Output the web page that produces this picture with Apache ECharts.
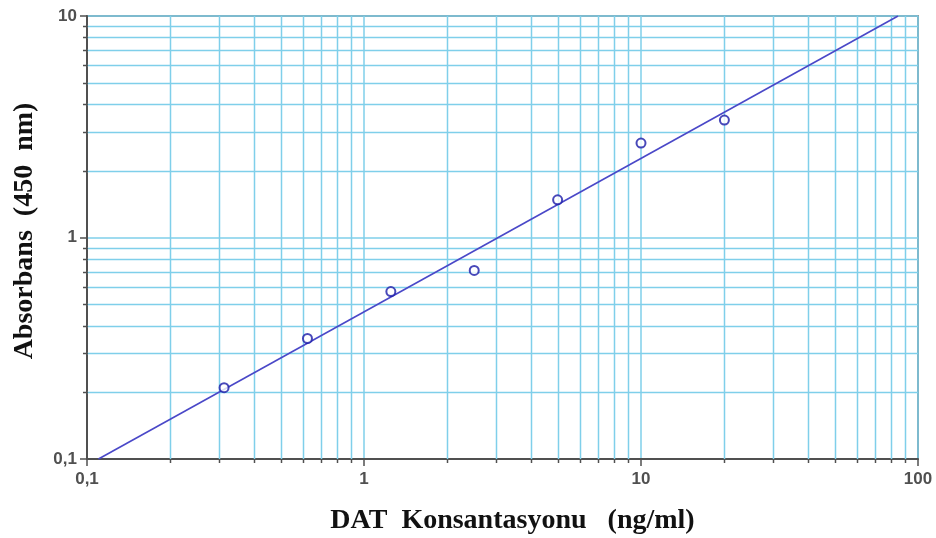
<!DOCTYPE html>
<html>
<head>
<meta charset="utf-8">
<script src="https://cdn.jsdelivr.net/npm/echarts@6/dist/echarts.min.js"></script>
<style>
  html, body { margin: 0; padding: 0; background: #fff; }
  #chart { width: 936px; height: 538px; }
</style>
</head>
<body>
<div id="chart"></div>
<script>
// Standard concentrations (ng/ml) and measured absorbance at 450 nm
const concentrations = [0.3125, 0.625, 1.25, 2.5, 5, 10, 20];
const absorbance = [0.21, 0.35, 0.57, 0.71, 1.48, 2.67, 3.39];

// Fitted log-log standard curve, end points
const fitX = [0.11, 84.7];
const fitY = [0.1, 10];

// Minor grid positions for the log axes
const xMinor = [0.2, 0.3, 0.4, 0.5, 0.6, 0.7, 0.8, 0.9,
                2, 3, 4, 5, 6, 7, 8, 9,
                20, 30, 40, 50, 60, 70, 80, 90];
const yMinor = [0.2, 0.3, 0.4, 0.5, 0.6, 0.7, 0.8, 0.9,
                2, 3, 4, 5, 6, 7, 8, 9];

const GRID_COLOR = '#7fcfea';
const AXIS_COLOR = '#505050';

const chart = echarts.init(document.getElementById('chart'));

function commaFmt(v) {
  return String(v).replace('.', ',');
}

// Minor vertical grid lines plus small ticks below the x axis
function renderXMinor(params, api) {
  const cs = params.coordSys;
  const p = api.coord([api.value(0), 1]);
  const x = Math.round(p[0]) + 0.5;
  const bottom = cs.y + cs.height;
  return {
    type: 'group',
    children: [
      { type: 'line', shape: { x1: x, y1: cs.y, x2: x, y2: bottom },
        style: { stroke: GRID_COLOR, lineWidth: 1.5 } },
      { type: 'line', shape: { x1: x, y1: bottom, x2: x, y2: bottom + 4 },
        style: { stroke: AXIS_COLOR, lineWidth: 1.5 } }
    ]
  };
}

// Minor horizontal grid lines plus small ticks on the y axis
function renderYMinor(params, api) {
  const cs = params.coordSys;
  const p = api.coord([1, api.value(1)]);
  const y = Math.round(p[1]) + 0.5;
  return {
    type: 'group',
    children: [
      { type: 'line', shape: { x1: cs.x, y1: y, x2: cs.x + cs.width, y2: y },
        style: { stroke: GRID_COLOR, lineWidth: 1.5 } },
      { type: 'line', shape: { x1: cs.x - 4, y1: y, x2: cs.x + 1, y2: y },
        style: { stroke: AXIS_COLOR, lineWidth: 1.5 } }
    ]
  };
}

const labelStyle = {
  color: AXIS_COLOR,
  fontFamily: 'Liberation Sans, Arial, sans-serif',
  fontWeight: 'bold',
  fontSize: 17
};

const titleStyle = {
  color: '#111',
  fontFamily: 'Liberation Serif, Times New Roman, serif',
  fontWeight: 'bold'
};

chart.setOption({
  animation: false,
  backgroundColor: '#ffffff',
  grid: { left: 87, right: 18, top: 16, bottom: 79, show: true,
          outerBoundsMode: 'none', containLabel: false,
          borderColor: AXIS_COLOR, borderWidth: 1.5 },
  xAxis: {
    type: 'log',
    logBase: 10,
    min: 0.1,
    max: 100,
    name: 'DAT  Konsantasyonu   (ng/ml)',
    nameLocation: 'middle',
    nameGap: 48,
    nameTextStyle: Object.assign({ fontSize: 28, padding: [0, 0, 0, 20] }, titleStyle),
    axisLine: { onZero: false, lineStyle: { color: AXIS_COLOR, width: 2 } },
    axisTick: { show: true, length: 7, lineStyle: { color: AXIS_COLOR, width: 1.5 } },
    axisLabel: Object.assign({ margin: 12, formatter: commaFmt }, labelStyle),
    splitLine: { show: true, lineStyle: { color: GRID_COLOR, width: 1.5 } }
  },
  yAxis: {
    type: 'log',
    logBase: 10,
    min: 0.1,
    max: 10,
    name: 'Absorbans  (450  nm)',
    nameLocation: 'middle',
    nameGap: 48,
    nameTextStyle: Object.assign({ fontSize: 28, padding: [0, 0, 0, 13] }, titleStyle),
    axisLine: { onZero: false, lineStyle: { color: AXIS_COLOR, width: 2 } },
    axisTick: { show: true, length: 7, lineStyle: { color: AXIS_COLOR, width: 1.5 } },
    axisLabel: Object.assign({ margin: 10, formatter: commaFmt }, labelStyle),
    splitLine: { show: true, lineStyle: { color: GRID_COLOR, width: 1.5 } }
  },
  series: [
    {
      type: 'custom',
      z: 1,
      silent: true,
      renderItem: renderXMinor,
      data: xMinor.map(v => [v, 1]),
      clip: false
    },
    {
      type: 'custom',
      z: 1,
      silent: true,
      renderItem: renderYMinor,
      data: yMinor.map(v => [1, v]),
      clip: false
    },
    {
      type: 'line',
      z: 3,
      data: fitX.map((x, i) => [x, fitY[i]]),
      symbol: 'none',
      lineStyle: { color: '#4a48c8', width: 1.6 }
    },
    {
      type: 'scatter',
      z: 4,
      data: concentrations.map((x, i) => [x, absorbance[i]]),
      symbol: 'emptyCircle',
      symbolSize: 9,
      itemStyle: { color: '#1a1aa8', borderWidth: 2 }
    }
  ]
});
</script>
</body>
</html>
